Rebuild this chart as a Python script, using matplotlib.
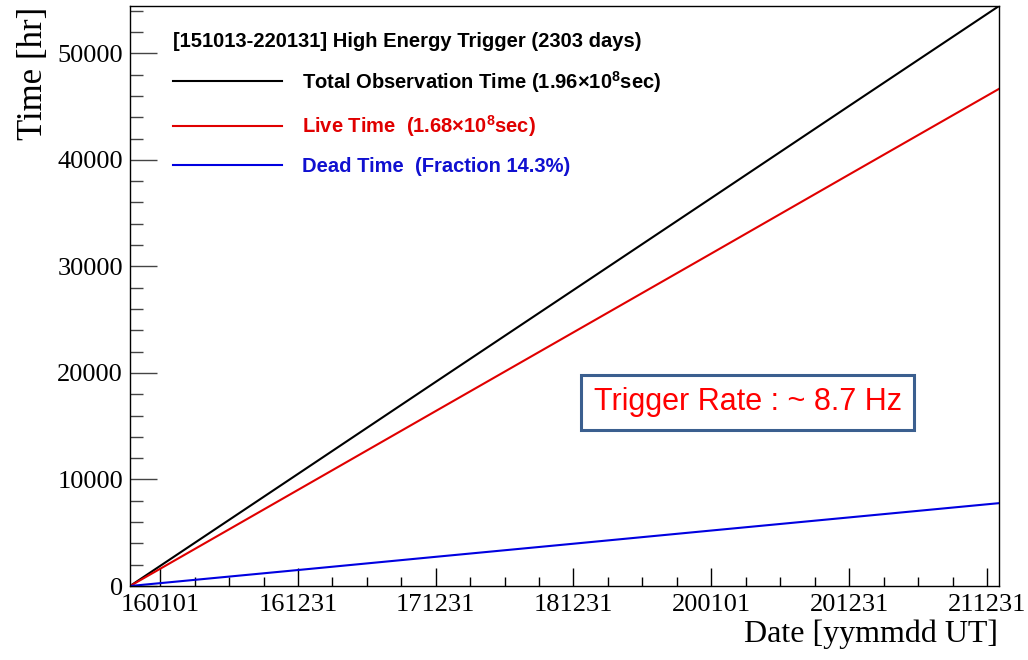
import numpy as np
import pandas as pd
import matplotlib
matplotlib.use("Agg")
import matplotlib.pyplot as plt
import matplotlib.dates as mdates
from matplotlib.ticker import FixedLocator

# cumulative times [hr]
dates = ["2015-10-13", "2016-12-31", "2017-12-31", "2018-12-31",
         "2020-01-01", "2020-12-31", "2021-12-31", "2022-02-01"]
total_hr = [0, 10520, 19160, 27780, 36430, 45070, 53690, 54444]
live_hr = [0, 9020, 16420, 23810, 31220, 38630, 46020, 46667]
dead_hr = [0, 1500, 2740, 3970, 5210, 6440, 7670, 7777]

tick_dates = ["2016-01-01", "2016-12-31", "2017-12-31", "2018-12-31",
              "2020-01-01", "2020-12-31", "2021-12-31"]

header = "[151013-220131] High Energy Trigger (2303 days)"
labels = ["Total Observation Time (1.96×10$^{8}$sec)",
          "Live Time  (1.68×10$^{8}$sec)",
          "Dead Time  (Fraction 14.3%)"]
line_colors = ["black", "#e00000", "#0000e0"]
text_colors = ["black", "#e00000", "#1010d0"]

plt.rcParams["mathtext.fontset"] = "custom"
plt.rcParams["mathtext.rm"] = "Liberation Sans:bold"
plt.rcParams["mathtext.it"] = "Liberation Sans:bold"
plt.rcParams["mathtext.bf"] = "Liberation Sans:bold"

x = pd.to_datetime(dates)
fig = plt.figure(figsize=(10.28, 6.6), dpi=100)
ax = fig.add_axes([0.1265, 0.1121, 0.8453, 0.8788])

for ys, c, lab in zip([total_hr, live_hr, dead_hr], line_colors, labels):
    ax.plot(x, ys, color=c, lw=1.5, label=lab)

ax.set_xlim(x[0], x[-1])
ax.set_ylim(0, max(total_hr))

# x ticks: fixed dates, 3 minors between majors
major = mdates.date2num(pd.to_datetime(tick_dates))
minor = []
for a, b in zip(major[:-1], major[1:]):
    minor += list(np.linspace(a, b, 5)[1:-1])
ax.xaxis.set_major_locator(FixedLocator(major))
ax.xaxis.set_minor_locator(FixedLocator(minor))
ax.xaxis.set_major_formatter(mdates.DateFormatter("%y%m%d"))
ax.yaxis.set_major_locator(FixedLocator(np.arange(0, 60000, 10000)))
ax.yaxis.set_minor_locator(FixedLocator(np.arange(0, 56000, 2000)))

ax.tick_params(axis="y", which="major", direction="in", length=19.5, width=1,
               color="#444444", pad=5)
ax.tick_params(axis="y", which="minor", direction="in", length=9.5, width=1,
               color="#444444")
ax.tick_params(axis="x", which="major", direction="in", length=13, width=1, pad=6)
ax.tick_params(axis="x", which="minor", direction="in", length=6.5, width=1)
for t in ax.get_xticklabels() + ax.get_yticklabels():
    t.set_family("Liberation Serif")
    t.set_fontsize(19)
for s in ax.spines.values():
    s.set_linewidth(1.0)

ax.set_xlabel("Date [yymmdd UT]", family="Liberation Serif", fontsize=23, loc="right")
ax.xaxis.set_label_coords(0.999, -0.058)
ax.set_ylabel("Time [hr]", family="Liberation Serif", fontsize=25, loc="top")
ax.yaxis.set_label_coords(-0.092, 0.998)

leg = ax.legend(loc="upper left", bbox_to_anchor=(0.033, 0.980), frameon=False,
                title=header, alignment="left",
                prop={"family": "Liberation Sans", "weight": "bold", "size": 14.5},
                title_fontproperties={"family": "Liberation Sans", "weight": "bold",
                                      "size": 14.5},
                handlelength=5.4, handletextpad=1.0, labelspacing=0.9,
                borderpad=0.2)
for t, c in zip(leg.get_texts(), text_colors):
    t.set_color(c)

ax.text(0.7106, 0.3164, "Trigger Rate : ~ 8.7 Hz", transform=ax.transAxes,
        ha="center", va="center", color="#ff0000", family="Liberation Sans",
        fontsize=22,
        bbox=dict(boxstyle="square,pad=0.4", fc="white", ec="#3b5f8f", lw=2.2))

fig.savefig("out.png", dpi=100)
